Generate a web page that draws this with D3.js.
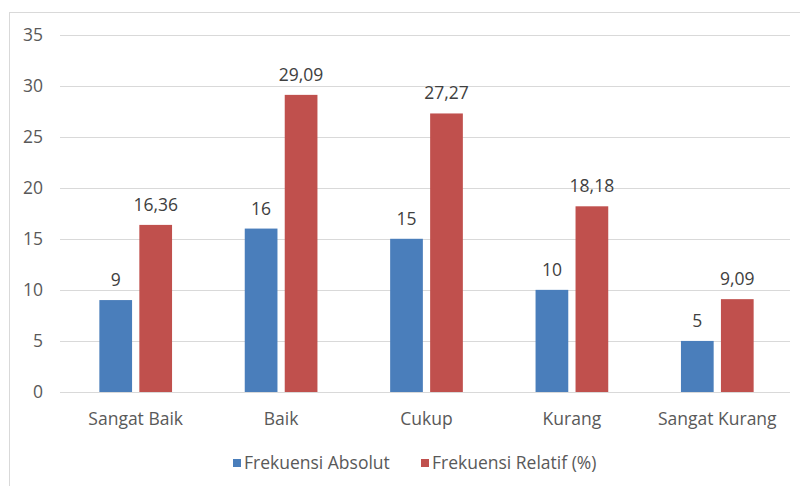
<!DOCTYPE html>
<html><head><meta charset="utf-8">
<script src="https://cdn.jsdelivr.net/npm/d3@7"></script>
<style>body{margin:0;background:#fff}svg{display:block}</style>
</head><body>
<svg id="c" width="800" height="486"></svg>
<script>
const categories = ["Sangat Baik","Baik","Cukup","Kurang","Sangat Kurang"];
const seriesNames = ["Frekuensi Absolut","Frekuensi Relatif (%)"];
const absolut = [9,16,15,10,5];
const relatif = [16.36,29.09,27.27,18.18,9.09];
const yTicks = [0,5,10,15,20,25,30,35];
const colors = ["#4a7ebb","#c0504d"];

const svg = d3.select("#c");
const font = "'Open Sans', 'Noto Sans', sans-serif";
const fs = 17.5;
// outer frame
svg.append("rect").attr("x",9.5).attr("y",12.5).attr("width",800).attr("height",480)
  .attr("fill","none").attr("stroke","#d9d9d9");

const x0 = d3.scaleBand().domain(categories).range([63,790]);
const y = d3.scaleLinear().domain([0,35]).range([392,34.5]);
const bw = x0.bandwidth();
const barW = bw*0.225, innerGap = bw*0.05;

// gridlines
svg.append("g").selectAll("line").data(yTicks).join("line")
  .attr("x1",60).attr("x2",790)
  .attr("y1",d=>Math.round(y(d))+0.5).attr("y2",d=>Math.round(y(d))+0.5)
  .attr("stroke","#d9d9d9").attr("stroke-width",1);

// y labels
svg.append("g").selectAll("text").data(yTicks).join("text")
  .attr("x",43).attr("y",d=>y(d)).attr("dy","0.35em")
  .attr("text-anchor","end").attr("font-family",font).attr("font-size",fs)
  .attr("fill","#595959").text(d=>d);

const series = [absolut, relatif];
const fmt = v => String(v).replace(".",",");
series.forEach((vals,si)=>{
  const g = svg.append("g");
  const xpos = (c)=> x0(c) + bw/2 - barW - innerGap/2 + si*(barW+innerGap);
  g.selectAll("rect").data(categories).join("rect")
    .attr("x",c=>xpos(c)).attr("width",barW)
    .attr("y",(c,i)=>y(vals[i])).attr("height",(c,i)=>y(0)-y(vals[i]))
    .attr("fill",colors[si]);
  g.selectAll("text").data(categories).join("text")
    .attr("x",c=>xpos(c)+barW/2).attr("y",(c,i)=>y(vals[i])-14)
    .attr("text-anchor","middle").attr("font-family",font).attr("font-size",fs)
    .attr("fill","#404040").text((c,i)=>fmt(vals[i]));
});

// x labels
svg.append("g").selectAll("text").data(categories).join("text")
  .attr("x",c=>x0(c)+bw/2).attr("y",425)
  .attr("text-anchor","middle").attr("font-family",font).attr("font-size",fs)
  .attr("fill","#595959").text(c=>c);

// legend
const legX = [233, 421];
seriesNames.forEach((n,i)=>{
  svg.append("rect").attr("x",legX[i]).attr("y",459).attr("width",8).attr("height",8).attr("fill",colors[i]);
  svg.append("text").attr("x",legX[i]+11).attr("y",463).attr("dy","0.35em")
    .attr("font-family",font).attr("font-size",fs).attr("fill","#595959").text(n);
});
</script>
</body></html>
